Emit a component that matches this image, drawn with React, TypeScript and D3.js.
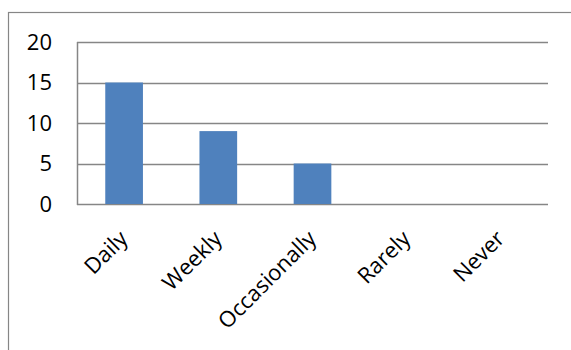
import React from "react";
import * as d3 from "d3";

const categories = ["Daily", "Weekly", "Occasionally", "Rarely", "Never"];
const counts = [15, 9, 5, 0, 0];
const yTicks = [0, 5, 10, 15, 20];

const W = 571;
const H = 350;
const plot = { left: 77, right: 548, top: 42, bottom: 204 };
const gridColor = "#868686";
const barColor = "#4F81BD";
const font = "'Open Sans', sans-serif";

export default function App() {
  const x = d3
    .scaleBand<string>()
    .domain(categories)
    .range([plot.left, plot.right])
    .paddingInner(0.6)
    .paddingOuter(0.3);
  const band = d3.scaleBand<string>().domain(categories).range([plot.left, plot.right]);
  const y = d3.scaleLinear().domain([0, 20]).range([plot.bottom, plot.top]);

  return (
    <div style={{ position: "fixed", left: 0, top: 0, width: W, height: H, background: "#fff" }}>
      <svg width={W} height={H} style={{ display: "block" }}>
        {/* chart frame */}
        <rect x={8.5} y={12.5} width={700} height={500} fill="none" stroke={gridColor} strokeWidth={1.2} />

        {/* gridlines */}
        {yTicks.map((t) => (
          <line
            key={t}
            x1={plot.left}
            x2={plot.right}
            y1={Math.round(y(t)) + 0.5}
            y2={Math.round(y(t)) + 0.5}
            stroke={gridColor}
            strokeWidth={1.5}
          />
        ))}
        {/* value axis line */}
        <line
          x1={plot.left + 0.5}
          x2={plot.left + 0.5}
          y1={plot.top}
          y2={plot.bottom + 1}
          stroke={gridColor}
          strokeWidth={1.5}
        />

        {/* bars */}
        {categories.map((c, i) =>
          counts[i] > 0 ? (
            <rect
              key={c}
              x={x(c)}
              width={x.bandwidth()}
              y={y(counts[i])}
              height={y(0) - y(counts[i])}
              fill={barColor}
            />
          ) : null
        )}

        {/* y tick labels */}
        {yTicks.map((t) => (
          <text
            key={t}
            x={52}
            y={y(t)}
            dy="0.36em"
            textAnchor="end"
            fontFamily={font}
            fontSize={22}
            fill="#000"
          >
            {t}
          </text>
        ))}

        {/* category labels */}
        {categories.map((c) => {
          const cx = (band(c) as number) + band.bandwidth() / 2;
          return (
            <text
              key={c}
              transform={`translate(${cx + 5},${240}) rotate(-45)`}
              textAnchor="end"
              fontFamily={font}
              fontSize={22}
              fill="#000"
            >
              {c}
            </text>
          );
        })}
      </svg>
    </div>
  );
}
